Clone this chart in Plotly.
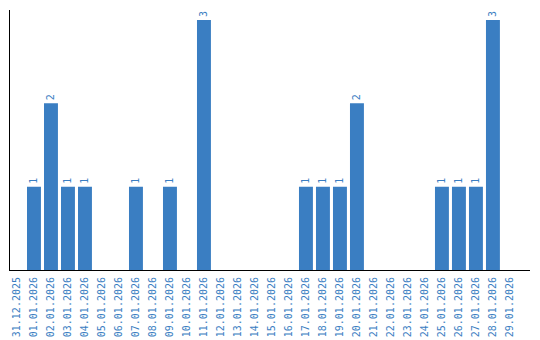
import plotly.graph_objects as go

dates = ["31.12.2025", "01.01.2026", "02.01.2026", "03.01.2026", "04.01.2026", "05.01.2026",
         "06.01.2026", "07.01.2026", "08.01.2026", "09.01.2026", "10.01.2026", "11.01.2026",
         "12.01.2026", "13.01.2026", "14.01.2026", "15.01.2026", "16.01.2026", "17.01.2026",
         "18.01.2026", "19.01.2026", "20.01.2026", "21.01.2026", "22.01.2026", "23.01.2026",
         "24.01.2026", "25.01.2026", "26.01.2026", "27.01.2026", "28.01.2026", "29.01.2026"]
counts = [0, 1, 2, 1, 1, 0, 0, 1, 0, 1, 0, 3, 0, 0, 0, 0, 0, 1, 1, 1, 2, 0, 0, 0, 0, 1, 1, 1, 3, 0]

blue = "#3a7ec2"
labels = [str(v) if v > 0 else "" for v in counts]
font = "DejaVu Sans Mono"

fig = go.Figure(go.Bar(
    x=dates, y=counts, marker_color=blue, marker_line_width=0,
    text=labels, textposition="outside", textangle=-90,
    textfont=dict(family=font, size=10, color=blue),
    cliponaxis=False,
))
fig.update_layout(
    width=540, height=340, margin=dict(l=10, r=10, t=10, b=70),
    plot_bgcolor="white", paper_bgcolor="white", bargap=0.18,
    showlegend=False,
)
fig.update_xaxes(type="category", range=[-0.41, 30.18], tickangle=-90, automargin=False,
                 tickfont=dict(family=font, size=10, color=blue), ticklabelstandoff=2,
                 showline=True, linecolor="black", linewidth=1, showgrid=False,
                 ticks="", ticklen=0)
fig.update_yaxes(range=[0, 3.12], showline=True, linecolor="black", linewidth=1, automargin=False,
                 showgrid=False, showticklabels=False, ticks="", zeroline=False)
fig.write_html("out.html")
